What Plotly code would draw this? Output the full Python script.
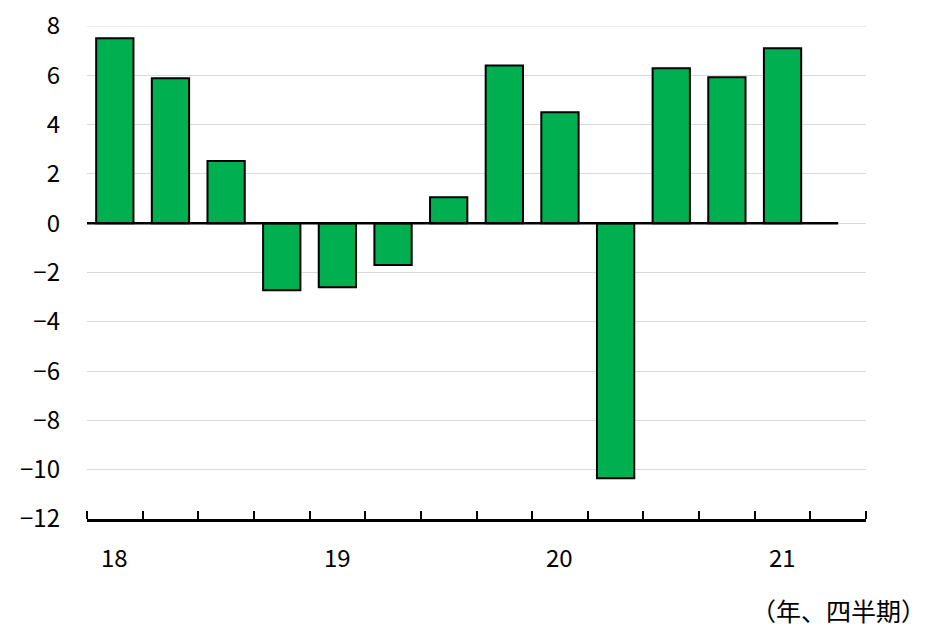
import plotly.graph_objects as go

quarters = ["18Q1","18Q2","18Q3","18Q4","19Q1","19Q2","19Q3","19Q4","20Q1","20Q2","20Q3","20Q4","21Q1"]
values = [7.5, 5.88, 2.52, -2.72, -2.6, -1.7, 1.05, 6.4, 4.5, -10.35, 6.29, 5.92, 7.1]
year_labels = ["18", "19", "20", "21"]
year_positions = [0, 4, 8, 12]
y_ticks = list(range(-12, 9, 2))

FONT = "Noto Sans CJK JP"
x_idx = list(range(len(quarters)))
y_min, y_max = min(y_ticks), max(y_ticks)

fig = go.Figure()
fig.add_trace(go.Bar(
    x=x_idx, y=values, width=0.67,
    marker=dict(color="#00B050", line=dict(color="black", width=2)),
    hovertext=quarters,
))

# top gridline (plotly drops the gridline at the range edge)
fig.add_shape(type="line", xref="paper", yref="y", x0=0, x1=1, y0=y_max, y1=y_max,
              line=dict(color="#d9d9d9", width=1), layer="below")
# zero line
fig.add_shape(type="line", xref="x", yref="y", x0=-0.5, x1=13.0, y0=0, y1=0,
              line=dict(color="black", width=2.5), layer="above")

for lab, pos in zip(year_labels, year_positions):
    fig.add_annotation(x=pos, y=0, xref="x", yref="paper", text=lab, showarrow=False,
                       yanchor="top", yshift=-18, font=dict(family=FONT, size=24, color="black"))

fig.add_annotation(x=1, y=0, xref="paper", yref="paper", xanchor="right", yanchor="middle",
                   text="（年、四半期）", showarrow=False, xshift=62, yshift=-91,
                   font=dict(family=FONT, size=25, color="black"))

fig.update_xaxes(range=[-0.5, 13.5], showgrid=False, zeroline=False, automargin=False,
                 showline=True, linecolor="black", linewidth=2.5,
                 tickvals=[], showticklabels=False,
                 minor=dict(tickvals=[i - 0.5 for i in range(15)], ticks="inside",
                            ticklen=8, tickwidth=2, tickcolor="black"))
fig.update_yaxes(range=[y_min, y_max], tickvals=y_ticks, showgrid=True, gridcolor="#d9d9d9",
                 gridwidth=1, zeroline=False, showline=False, ticks="", automargin=False,
                 ticklabelstandoff=26, ticklabeloverflow="allow",
                 tickfont=dict(family=FONT, size=24, color="black"))

fig.update_layout(
    width=930, height=627, showlegend=False,
    plot_bgcolor="white", paper_bgcolor="white",
    margin=dict(l=87, r=64, t=26, b=108),
    font=dict(family=FONT),
)

fig.write_html("out.html", config={"displayModeBar": False},
               post_script="document.body.style.margin='0';")
